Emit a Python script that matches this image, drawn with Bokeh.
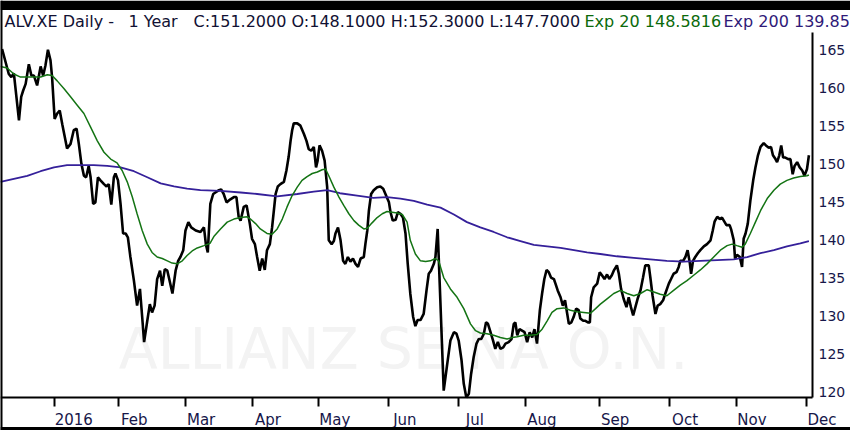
from bokeh.plotting import figure
from bokeh.models import (Range1d, FixedTicker, LinearAxis, Label, BoxAnnotation)
from bokeh.embed import file_html
from bokeh.resources import INLINE

# ---------------- data (x = trading-session index, 0 = early Dec 2015) -------------
close_session = [
    0.5, 2.6, 3.4, 4.2, 5.0, 5.8, 6.5, 7.1, 7.9, 8.9, 9.7, 10.5, 11.5, 12.6, 13.4, 14.1,
    14.9, 15.7, 16.2, 17.0, 17.8, 18.6, 19.4, 20.1, 20.9, 22.0, 23.0, 23.9, 24.6, 25.4,
    26.2, 26.9, 27.7, 28.3, 29.1, 29.8, 30.6, 31.4, 32.5, 33.3, 34.0, 34.8, 35.6, 36.1,
    36.9, 37.7, 38.5, 39.3, 40.0, 40.8, 41.9, 42.9, 43.8, 44.5, 45.1, 46.1, 46.9, 47.6,
    48.4, 49.2, 50.1, 50.8, 51.6, 52.4, 53.2, 54.0, 55.0, 55.8, 56.5, 57.4, 58.1, 59.0,
    59.9, 61.3, 62.8, 63.9, 64.5, 65.1,
    65.9, 66.8, 67.5, 68.6, 69.3, 70.1, 71.0, 72.2, 73.3, 74.1, 74.8, 75.4, 76.4, 77.3,
    78.3, 79.0, 79.9, 80.6, 81.4, 82.2, 83.0, 83.7, 84.6, 85.3, 86.4, 87.1, 87.9, 89.0,
    89.8, 90.5, 91.1, 91.6, 92.1, 93.2, 94.2, 95.3, 96.1, 96.8, 97.6, 98.4, 99.1, 99.6,
    100.2, 101.0, 101.8, 102.6, 103.1, 104.0, 104.7, 105.2, 106.0, 106.8, 107.6, 108.3,
    109.1, 109.9, 110.7, 111.5, 112.3, 113.1, 114.1, 114.6, 115.2, 115.7, 116.4, 117.2,
    118.3, 119.3, 120.2, 120.9, 122.0, 122.5, 123.2, 124.1, 124.8, 125.6,
    126.4, 127.2, 127.9, 128.7, 129.6, 130.3, 131.0, 131.9, 132.9, 133.8, 134.5, 135.2,
    136.1, 136.6, 137.3, 139.2, 140.3, 141.3, 142.4, 143.2, 143.9, 144.8, 145.5, 146.3,
    147.1, 147.8, 148.6, 149.5, 150.2, 151.0, 151.8, 152.5, 153.1, 153.9, 154.7, 155.4,
    156.2, 157.0, 157.9, 158.6, 159.6, 160.5, 161.2, 161.7, 162.3, 163.0, 163.8, 164.6,
    165.4, 166.2, 167.0, 167.7, 168.5, 169.4, 170.1, 170.8, 171.5, 172.2, 172.9, 173.8,
    174.3, 175.0, 175.9, 176.6, 177.3, 178.0, 178.5, 179.3, 180.0, 180.8, 181.6, 182.1,
    183.0, 183.7, 184.5, 185.1, 185.5, 186.3, 187.4, 188.2,
    188.9, 189.7, 190.5, 191.2, 192.0, 192.6, 193.6, 194.2, 194.9, 195.7, 196.6, 197.3,
    198.0, 198.7, 199.4, 200.1, 201.0, 201.8, 202.5, 203.6, 204.1, 204.8, 205.7, 206.4,
    207.2, 208.1, 208.8, 209.9, 210.6, 211.4, 212.3, 213.0, 213.5, 214.4, 215.1, 215.8,
    216.5, 216.9, 217.5, 218.2, 219.0, 219.8, 220.9, 221.9, 223.0, 223.7, 224.3, 225.1,
    225.9, 226.6, 227.3, 228.0, 229.0, 229.5, 230.3, 230.7, 231.3, 232.2, 232.9, 233.4,
    234.0, 234.7, 235.5, 236.4, 237.1, 237.9, 238.7, 239.7, 240.4, 241.3, 242.0, 242.6,
    243.4, 243.9, 244.6, 245.2, 245.8, 246.5, 247.4, 248.1, 248.8, 249.4, 250.2, 251.0,
    251.8, 252.5, 253.3, 253.9,
]
close_price = [
    165.2, 161.9, 161.5, 162.0, 158.9, 155.8, 158.9, 159.7, 160.6, 163.2, 161.7, 161.7,
    160.4, 162.9, 161.7, 163.0, 165.1, 163.7, 161.5, 156.0, 156.7, 157.1, 155.3, 153.8,
    152.1, 152.7, 154.5, 154.7, 152.7, 150.1, 148.5, 148.3, 149.8, 148.3, 144.8, 145.0,
    148.3, 147.9, 147.4, 147.1, 147.4, 144.7, 148.3, 148.8, 147.9, 144.8, 140.9, 140.9,
    140.4, 137.8, 134.7, 131.4, 133.6, 129.9, 126.6, 129.4, 131.6, 130.5, 131.4, 134.9,
    136.0, 134.0, 136.2, 136.0, 134.5, 133.0, 136.0, 137.3, 137.8, 138.7, 141.3, 142.4,
    141.7, 141.3, 141.1, 141.7, 139.5, 138.4,
    144.8, 146.1, 146.3, 146.6, 146.7, 146.1, 145.0, 145.4, 145.7, 145.7, 143.1, 142.6,
    144.4, 144.6, 142.2, 140.2, 139.5, 137.8, 136.0, 137.6, 136.1, 138.7, 139.5, 141.7,
    146.1, 147.1, 147.4, 147.7, 149.2, 151.0, 153.1, 154.5, 155.4, 155.4, 155.1, 154.0,
    153.1, 152.0, 151.8, 152.3, 149.6, 150.5, 152.5, 151.8, 150.5, 147.0, 140.0, 139.5,
    139.9, 140.9, 141.7, 140.0, 137.3, 136.9, 137.8, 137.2, 137.6, 136.9, 136.5, 137.6,
    137.8, 139.5, 141.3, 143.9, 146.1, 146.6, 147.0, 147.1, 146.8, 146.1, 145.0, 143.7,
    142.6, 142.7, 143.7, 143.5,
    143.0, 140.9, 136.9, 133.0, 129.9, 128.7, 129.5, 129.5, 130.3, 133.4, 135.6, 136.0,
    136.9, 137.8, 141.5, 120.2, 123.7, 126.8, 127.9, 127.7, 126.8, 124.2, 121.1, 119.3,
    119.8, 122.4, 124.6, 126.4, 127.0, 127.0, 127.7, 129.2, 129.0, 127.9, 126.8, 125.7,
    126.6, 125.7, 125.9, 126.4, 126.6, 127.0, 129.0, 129.2, 127.5, 128.3, 128.1, 127.9,
    126.6, 127.9, 127.2, 128.3, 126.4, 130.8, 133.0, 134.9, 136.1, 135.8, 135.1, 134.9,
    134.3, 133.4, 132.5, 131.4, 132.1, 130.3, 129.0, 129.2, 129.9, 131.0, 130.8, 129.7,
    129.4, 129.4, 129.2, 129.2, 132.5, 133.8, 134.3, 135.8,
    135.4, 134.9, 135.5, 134.9, 135.4, 136.0, 136.7, 135.6, 133.6, 132.3, 131.2, 132.5,
    131.2, 130.1, 131.2, 132.3, 133.4, 135.1, 136.7, 136.7, 135.1, 132.7, 130.3, 131.4,
    131.6, 132.1, 133.0, 134.3, 134.9, 135.6, 135.8, 136.5, 137.3, 137.3, 137.8, 138.7,
    137.0, 135.6, 137.3, 137.8, 138.3, 138.7, 139.2, 139.5, 140.0, 141.3, 142.5, 143.1,
    142.8, 143.0, 142.5, 142.0, 142.0, 141.4, 140.0, 137.6, 138.1, 137.8, 136.5, 140.2,
    140.9, 142.2, 145.2, 147.9, 149.6, 151.2, 152.3, 152.8, 152.5, 152.2, 152.3, 151.2,
    150.7, 150.3, 151.2, 152.5, 150.9, 150.9, 150.7, 150.7, 148.7, 149.8, 150.3, 149.6,
    149.2, 148.5, 149.4, 151.2,
]

ema20_session = [
    0, 2.1, 4.2, 6.3, 8.4, 10.5, 12.6, 14.7, 16.2, 17.8, 19.9, 22.0, 24.1, 26.2, 28.3,
    30.4, 32.5, 34.6, 36.6, 38.2, 39.8, 41.4, 42.9, 44.5, 46.1, 47.6, 49.2, 50.8, 52.4,
    53.9, 55.5, 57.1, 58.6, 60.2, 61.8, 63.9, 65.8, 67.0, 69.1, 71.2, 73.3, 75.4, 77.5,
    78.5, 80.1, 81.6, 83.7, 85.3, 86.9, 88.5, 90.0, 91.6, 93.2, 94.7, 96.3, 97.9, 99.5,
    101.0, 102.1, 103.1, 104.7, 106.3, 107.8, 109.4, 111.0, 112.5, 114.1, 115.2, 116.7,
    118.3, 119.9, 121.4, 123.0, 124.6, 126.2, 127.7, 128.7, 130.3, 131.9, 133.5, 135.0,
    136.6, 137.6, 139.2, 141.3, 143.4, 145.5, 147.6, 149.2, 150.7, 152.8, 154.9, 157.0,
    159.1, 160.7, 162.3, 164.3, 166.4, 168.5, 170.1, 171.7, 173.2, 174.8, 176.9, 179.0,
    181.1, 183.2, 185.3, 186.9, 188.4, 190.5, 192.6, 194.7, 196.8, 198.9, 201.0, 203.1,
    205.2, 207.2, 209.3, 211.4, 213.5, 215.6, 217.7, 219.8, 221.9, 224.0, 226.1, 228.2,
    229.8, 231.3, 232.9, 233.9, 235.5, 237.1, 238.7, 240.8, 242.9, 244.9, 247.0, 249.1,
    251.2, 253.3, 253.9,
]
ema20_value = [
    162.9, 162.7, 161.9, 161.5, 161.5, 161.5, 161.5, 161.8, 161.7, 161.0, 160.0, 158.9,
    157.8, 156.7, 154.9, 153.1, 151.6, 150.7, 150.2, 149.2, 147.7, 145.7, 143.5, 141.3,
    139.5, 138.4, 137.8, 137.6, 137.3, 137.0, 136.9, 137.3, 138.0, 138.6, 139.0, 139.3,
    139.6, 140.5, 141.5, 142.4, 142.8, 143.0, 143.1, 142.8, 142.2, 141.5, 140.9, 140.8,
    141.5, 142.8, 144.4, 145.9, 147.0, 147.9, 148.4, 148.8, 149.0, 149.3, 149.4, 148.5,
    147.0, 145.7, 144.6, 143.5, 142.6, 142.0, 141.5, 141.6, 142.3, 143.0, 143.5, 143.8,
    143.7, 143.6, 143.4, 142.4, 140.0, 138.2, 137.3, 137.2, 137.3, 137.6, 137.3, 135.1,
    133.6, 132.5, 131.0, 129.0, 128.1, 127.8, 127.7, 127.5, 127.2, 127.0, 127.2, 127.3,
    127.5, 127.5, 127.6, 128.3, 129.4, 130.5, 131.0, 131.1, 130.8, 130.6, 130.5, 130.4,
    131.0, 131.6, 132.3, 133.0, 133.4, 133.0, 132.7, 133.0, 133.5, 133.2, 132.9, 132.7,
    133.4, 134.1, 134.7, 135.4, 136.1, 136.9, 137.8, 138.7, 139.3, 139.5, 139.3, 139.1,
    139.5, 140.9, 142.4, 143.9, 145.5, 146.6, 147.4, 147.9, 148.2, 148.4, 148.5, 148.6,
]

ema200_session = [
    0, 4.2, 8.4, 12.6, 16.8, 20.9, 25.1, 29.3, 33.5, 37.7, 41.9, 46.1, 50.3, 54.5, 58.6,
    62.8, 69.1, 75.4, 80.6, 86.9, 93.2, 98.4, 102.6, 106.6, 112.0, 117.1, 121.4, 125.6,
    129.8, 134.0, 138.2, 142.4, 146.5, 150.7, 154.9, 159.1, 163.3, 167.5, 171.7, 175.9,
    180.1, 184.2, 188.4, 193.6, 198.9, 204.1, 209.3, 214.6, 219.8, 225.1, 230.3, 234.5,
    238.7, 242.9, 247.0, 251.2, 253.9,
]
ema200_value = [
    147.7, 148.1, 148.5, 149.1, 149.6, 149.9, 149.9, 149.9, 149.8, 149.6, 149.1, 148.3,
    147.5, 147.1, 146.8, 146.6, 146.5, 146.3, 146.1, 145.8, 146.1, 146.4, 146.6, 146.2,
    145.9, 145.6, 145.7, 145.5, 145.2, 144.7, 144.3, 143.4, 142.4, 141.7, 141.1, 140.4,
    139.9, 139.4, 139.2, 139.0, 138.7, 138.4, 138.2, 137.9, 137.7, 137.5, 137.3, 137.2,
    137.3, 137.4, 137.5, 137.8, 138.3, 138.7, 139.2, 139.6, 139.9,
]

month_start_session = [17, 37, 58, 79, 100, 122, 144, 165, 188, 210, 231, 253]
month_labels = ["2016", "Feb", "Mar", "Apr", "May", "Jun", "Jul", "Aug", "Sep", "Oct", "Nov", "Dec"]
price_ticks = [120, 125, 130, 135, 140, 145, 150, 155, 160, 165]

title_parts = ["ALV.XE Daily -", "1 Year", "C:151.2000 O:148.1000 H:152.3000 L:147.7000",
               "Exp 20 148.5816", "Exp 200 139.85"]
watermark = "ALLIANZ SE NA O.N."

# ---------------- geometry / styling ----------------
W, H = 850, 430
PX_X = 3.184          # pixels per trading session
PX_Y = 7.593          # pixels per euro
TOP = 171.585         # price at the top edge of the canvas


def xs(px):
    return px / PX_X


def yv(py):
    return TOP - py / PX_Y


FONT = "DejaVu Sans"
TEXT = "#17174a"
DARK = "#111133"
GREEN = "#147414"
GREEN_T = "#0b6a0b"
INDIGO = "#35209a"
INDIGO_T = "#2f1a78"

p = figure(width=W, height=H, output_backend="svg", toolbar_location=None,
           x_range=Range1d(0, xs(W)), y_range=Range1d(yv(H), TOP), y_axis_location="right",
           min_border=0, min_border_left=0, min_border_right=0, min_border_top=0,
           min_border_bottom=0, title=None)
p.grid.visible = False
p.outline_line_color = None
p.background_fill_color = "white"
p.border_fill_color = "white"

AXIS_Y = yv(397)       # price level of the time axis line
AXIS_X = xs(812)       # session of the price axis line

# right price axis (drawn at the right edge of the price area)
ya = p.yaxis[0]
ya.fixed_location = AXIS_X
ya.bounds = (AXIS_Y, yv(32))
ya.ticker = FixedTicker(ticks=price_ticks)
ya.major_tick_out = 0
ya.major_tick_in = 0
ya.minor_tick_line_color = None
ya.axis_line_color = "black"
ya.axis_line_width = 2
ya.major_label_text_font = FONT
ya.major_label_text_font_size = "14px"
ya.major_label_text_color = TEXT
ya.major_label_standoff = 6

# time axis: month-start tick marks (minor) and labels just right of them (major)
label_center = [round(m + (2 + 4.65 * len(t)) / PX_X) for m, t in zip(month_start_session, month_labels)]
xa = p.xaxis[0]
xa.fixed_location = AXIS_Y
xa.ticker = FixedTicker(ticks=label_center, minor_ticks=month_start_session)
xa.major_label_overrides = {c: t for c, t in zip(label_center, month_labels)}
xa.major_tick_out = 9
xa.major_tick_in = 0
xa.major_tick_line_color = None
xa.minor_tick_out = 9
xa.minor_tick_in = 0
xa.minor_tick_line_width = 2
xa.minor_tick_line_color = "black"
xa.major_label_text_font = FONT
xa.major_label_text_font_size = "15px"
xa.major_label_text_color = TEXT
xa.major_label_standoff = 4
xa.axis_line_color = None

# time axis line, ending at the price axis
xline = LinearAxis(fixed_location=AXIS_Y, bounds=(0, AXIS_X), ticker=FixedTicker(ticks=[]),
                   major_tick_line_color=None, minor_tick_line_color=None,
                   axis_line_color="black", axis_line_width=2)
p.add_layout(xline, "below")

# bottom and left borders
bottom = LinearAxis(fixed_location=yv(428), ticker=FixedTicker(ticks=[]),
                    major_tick_line_color=None, minor_tick_line_color=None,
                    axis_line_color="black", axis_line_width=3)
p.add_layout(bottom, "below")
left = LinearAxis(fixed_location=0, ticker=FixedTicker(ticks=[]),
                  major_tick_line_color=None, minor_tick_line_color=None,
                  axis_line_color="black", axis_line_width=4)
p.add_layout(left, "left")

# top black band
p.add_layout(BoxAnnotation(bottom=yv(9.5), fill_color="black", fill_alpha=1, line_color=None))

# watermark
p.add_layout(Label(x=xs(403), y=yv(348), text=watermark, text_align="center",
                   text_baseline="middle", text_font=FONT, text_font_size="57px",
                   text_color="#f3f3f3", level="underlay"))

# series
p.line(close_session, close_price, line_color="black", line_width=2.6)
p.line(ema200_session, ema200_value, line_color=INDIGO, line_width=1.8)
p.line(ema20_session, ema20_value, line_color=GREEN, line_width=1.5)

# title parts
title_px = [4, 128, 193, 584, 723]
title_col = [DARK, DARK, DARK, GREEN_T, INDIGO_T]
for tx, tt, tc in zip(title_px, title_parts, title_col):
    p.add_layout(Label(x=xs(tx), y=yv(21), text=tt, text_color=tc, text_font=FONT,
                       text_font_size="16px", text_baseline="middle"))

open("out.html", "w").write(file_html(p, INLINE))
